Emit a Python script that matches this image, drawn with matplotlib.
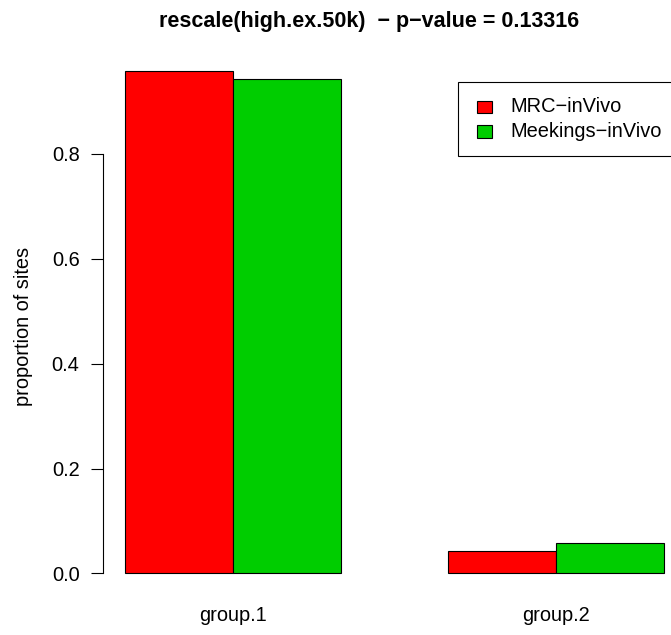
import numpy as np
import matplotlib
matplotlib.use("Agg")
import matplotlib.pyplot as plt
from matplotlib.patches import Rectangle

plt.rcParams["font.family"] = ["Liberation Sans", "DejaVu Sans"]

groups = ["group.1", "group.2"]
series = ["MRC\u2212inVivo", "Meekings\u2212inVivo"]
mrc = [0.958, 0.042]
meekings = [0.942, 0.058]
colors = ["#FF0000", "#00CD00"]

W, H = 671, 635
FS = 14.4
fig = plt.figure(figsize=(W / 100, H / 100), dpi=100)

# plot region in pixels (R-style barplot layout, 1 unit = 107.8 px)
left_px, top_px, bot_px = 103.4, 50.6, 593.6
ax = fig.add_axes([left_px / W, (H - bot_px) / H, (W - left_px) / W, (bot_px - top_px) / H])

# bars laid out as in barplot(beside=TRUE): width 1, one unit gap between groups
x_red = np.array([1, 4])
x_green = x_red + 1
ax.bar(x_red, mrc, width=1, align="edge", color=colors[0], edgecolor="black", linewidth=0.8)
ax.bar(x_green, meekings, width=1, align="edge", color=colors[1], edgecolor="black", linewidth=0.8)

ymax = max(max(mrc), max(meekings))
ax.set_ylim(-0.04 * ymax, 1.04 * ymax)
ax.set_xlim(0.8, 0.8 + (W - left_px) / 107.8)

for s in ["top", "right", "bottom"]:
    ax.spines[s].set_visible(False)
ax.spines["left"].set_bounds(0, 0.8)
ax.spines["left"].set_linewidth(0.8)
ax.set_yticks(np.arange(0, 0.81, 0.2))
ax.set_yticklabels([f"{v:.1f}" for v in np.arange(0, 0.81, 0.2)], fontsize=FS)
ax.tick_params(axis="y", length=8.6, width=0.8, pad=8.6)
ax.set_xticks(x_green)
ax.set_xticklabels(groups, fontsize=FS)
ax.tick_params(axis="x", length=0, pad=9)

fig.text(23.5 / W, 1 - 326 / H, "proportion of sites", rotation=90,
         ha="center", va="center", fontsize=FS)
fig.text(369 / W, 1 - 21 / H, "rescale(high.ex.50k)  \u2212 p\u2212value = 0.13316",
         ha="center", va="center", fontsize=15.5, fontweight="bold")

# legend box
def px_rect(x0, y0, x1, y1, **kw):
    fig.add_artist(Rectangle((x0 / W, 1 - y1 / H), (x1 - x0) / W, (y1 - y0) / H,
                             transform=fig.transFigure, **kw))

px_rect(458.3, 82.3, 690, 155.7, facecolor="white", edgecolor="black", linewidth=0.8)
for i, (lab, c) in enumerate(zip(series, colors)):
    yc = 107 + 24.5 * i
    px_rect(476.7, yc - 6.3, 491.7, yc + 6.3, facecolor=c, edgecolor="black", linewidth=0.8)
    fig.text(510 / W, 1 - yc / H, lab, ha="left", va="center", fontsize=FS)

fig.savefig("out.png", dpi=100)
